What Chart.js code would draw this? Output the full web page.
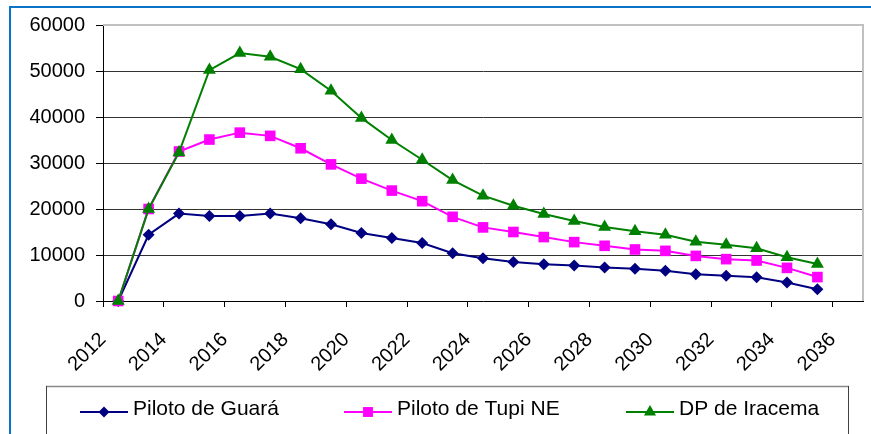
<!DOCTYPE html>
<html>
<head>
<meta charset="utf-8">
<script src="https://cdn.jsdelivr.net/npm/chart.js@4"></script>
<style>
html,body{margin:0;padding:0;background:#fff;}
#wrap{width:871px;height:434px;position:relative;}
</style>
</head>
<body>
<div id="wrap"><canvas id="c" width="871" height="434"></canvas></div>
<script>
const years = [2012,2013,2014,2015,2016,2017,2018,2019,2020,2021,2022,2023,2024,2025,2026,2027,2028,2029,2030,2031,2032,2033,2034,2035];
const seriesNames = ['Piloto de Guará', 'Piloto de Tupi NE', 'DP de Iracema'];
const guara   = [0,14400,19000,18500,18500,19000,18000,16700,14800,13700,12600,10400,9300,8500,8000,7700,7300,7000,6600,5800,5500,5150,4000,2550];
const tupi    = [0,20000,32500,35100,36600,35900,33200,29700,26600,24000,21700,18300,16000,15000,13900,12800,12000,11200,10900,9800,9100,8800,7200,5200];
const iracema = [0,20000,32300,50200,53900,53100,50400,45700,39800,35000,30700,26300,22900,20700,18900,17400,16100,15150,14400,12900,12250,11450,9500,8050];
const yTicks = [0,10000,20000,30000,40000,50000,60000];
const xTickYears = [2012,2014,2016,2018,2020,2022,2024,2026,2028,2030,2032,2034,2036];

const colors = ['#000080', '#FF00FF', '#008000'];
const styles = ['rectRot', 'rect', 'triangle'];
const radii = [6, 7.5, 7.5];

// points sit in the middle of each year interval
const toPts = arr => arr.map((v, i) => ({x: years[i] + 0.5, y: v}));

function drawMarker(ctx, style, x, y, r, color) {
  ctx.save();
  ctx.fillStyle = color;
  ctx.beginPath();
  if (style === 'rectRot') {
    ctx.moveTo(x, y - r); ctx.lineTo(x + r, y); ctx.lineTo(x, y + r); ctx.lineTo(x - r, y);
  } else if (style === 'rect') {
    const s = r * Math.SQRT1_2;
    ctx.rect(x - s, y - s, 2 * s, 2 * s);
  } else {
    ctx.moveTo(x, y - r);
    ctx.lineTo(x + r * Math.sin(2*Math.PI/3), y - r * Math.cos(2*Math.PI/3));
    ctx.lineTo(x + r * Math.sin(4*Math.PI/3), y - r * Math.cos(4*Math.PI/3));
  }
  ctx.closePath();
  ctx.fill();
  ctx.restore();
}

const deco = {
  id: 'deco',
  beforeDraw(chart) {
    const ctx = chart.ctx;
    ctx.save();
    ctx.fillStyle = '#fff';
    ctx.fillRect(0, 0, chart.width, chart.height);
    ctx.restore();
  },
  afterDraw(chart) {
    const ctx = chart.ctx;
    const a = chart.chartArea;
    ctx.save();
    // plot area border (top/right)
    ctx.strokeStyle = '#c0c0c0';
    ctx.lineWidth = 2;
    ctx.beginPath();
    ctx.moveTo(a.left, a.top);
    ctx.lineTo(a.right, a.top);
    ctx.lineTo(a.right, a.bottom);
    ctx.stroke();
    // outer blue frame
    ctx.strokeStyle = '#0a74c6';
    ctx.lineWidth = 2;
    ctx.beginPath();
    ctx.moveTo(chart.width, 7);
    ctx.lineTo(10, 7);
    ctx.lineTo(10, chart.height);
    ctx.stroke();
    // legend box
    ctx.lineWidth = 1.5;
    ctx.strokeStyle = '#8a8a8a';
    ctx.beginPath(); ctx.moveTo(46, 386.5); ctx.lineTo(849, 386.5); ctx.stroke();
    ctx.lineWidth = 1;
    ctx.strokeStyle = '#404040';
    ctx.beginPath(); ctx.moveTo(46.5, 386); ctx.lineTo(46.5, chart.height); ctx.stroke();
    ctx.beginPath(); ctx.moveTo(848.5, 386); ctx.lineTo(848.5, chart.height); ctx.stroke();
    // legend items
    const starts = [80, 344, 626];
    const ly = 412;
    ctx.font = '21px "Liberation Sans", Arial, sans-serif';
    ctx.textBaseline = 'alphabetic';
    ctx.textAlign = 'left';
    for (let i = 0; i < 3; i++) {
      const x0 = starts[i];
      ctx.strokeStyle = colors[i];
      ctx.lineWidth = 2;
      ctx.beginPath(); ctx.moveTo(x0, ly); ctx.lineTo(x0 + 48, ly); ctx.stroke();
      drawMarker(ctx, styles[i], x0 + 24, ly, radii[i] - 0.5, colors[i]);
      ctx.fillStyle = '#000';
      ctx.fillText(seriesNames[i], x0 + 53, 415);
    }
    ctx.restore();
  }
};

const datasets = [guara, tupi, iracema].map((arr, i) => ({
  label: seriesNames[i],
  data: toPts(arr),
  borderColor: colors[i],
  backgroundColor: colors[i],
  borderWidth: 2,
  pointStyle: styles[i],
  pointRadius: radii[i],
  pointBorderWidth: 0,
  pointBackgroundColor: colors[i],
  pointBorderColor: colors[i],
  tension: 0,
  clip: false,
  order: 2 - i
}));

new Chart(document.getElementById('c'), {
  type: 'line',
  data: { datasets },
  plugins: [deco],
  options: {
    responsive: false,
    animation: false,
    devicePixelRatio: 1,
    layout: { padding: { top: 25, right: 8, left: 0, bottom: 0 } },
    plugins: { legend: { display: false }, tooltip: { enabled: false } },
    scales: {
      x: {
        type: 'linear',
        min: 2012,
        max: 2037,
        afterFit(s) { s.height = 133; },
        afterBuildTicks(s) { s.ticks = xTickYears.map(v => ({value: v})); },
        ticks: {
          autoSkip: false,
          maxRotation: 45,
          minRotation: 45,
          padding: 21,
          color: '#000',
          font: { family: '"Liberation Sans", Arial, sans-serif', size: 20 },
          callback: v => String(v)
        },
        grid: { drawOnChartArea: false, drawTicks: true, tickLength: 6, color: '#000' },
        border: { display: true, color: '#000', width: 1 }
      },
      y: {
        min: 0,
        max: 60000,
        afterFit(s) { s.width = 103; },
        afterBuildTicks(s) { s.ticks = yTicks.map(v => ({value: v})); },
        ticks: {
          padding: 11,
          color: '#000',
          font: { family: '"Liberation Sans", Arial, sans-serif', size: 20 },
          callback: v => String(v)
        },
        grid: {
          color: ctx => (ctx.tick && (ctx.tick.value === 60000 || ctx.tick.value === 0)) ? 'rgba(0,0,0,0)' : '#333',
          tickColor: '#000',
          tickLength: 7,
          lineWidth: 1
        },
        border: { display: true, color: '#000', width: 1 }
      }
    }
  }
});
</script>
</body>
</html>
